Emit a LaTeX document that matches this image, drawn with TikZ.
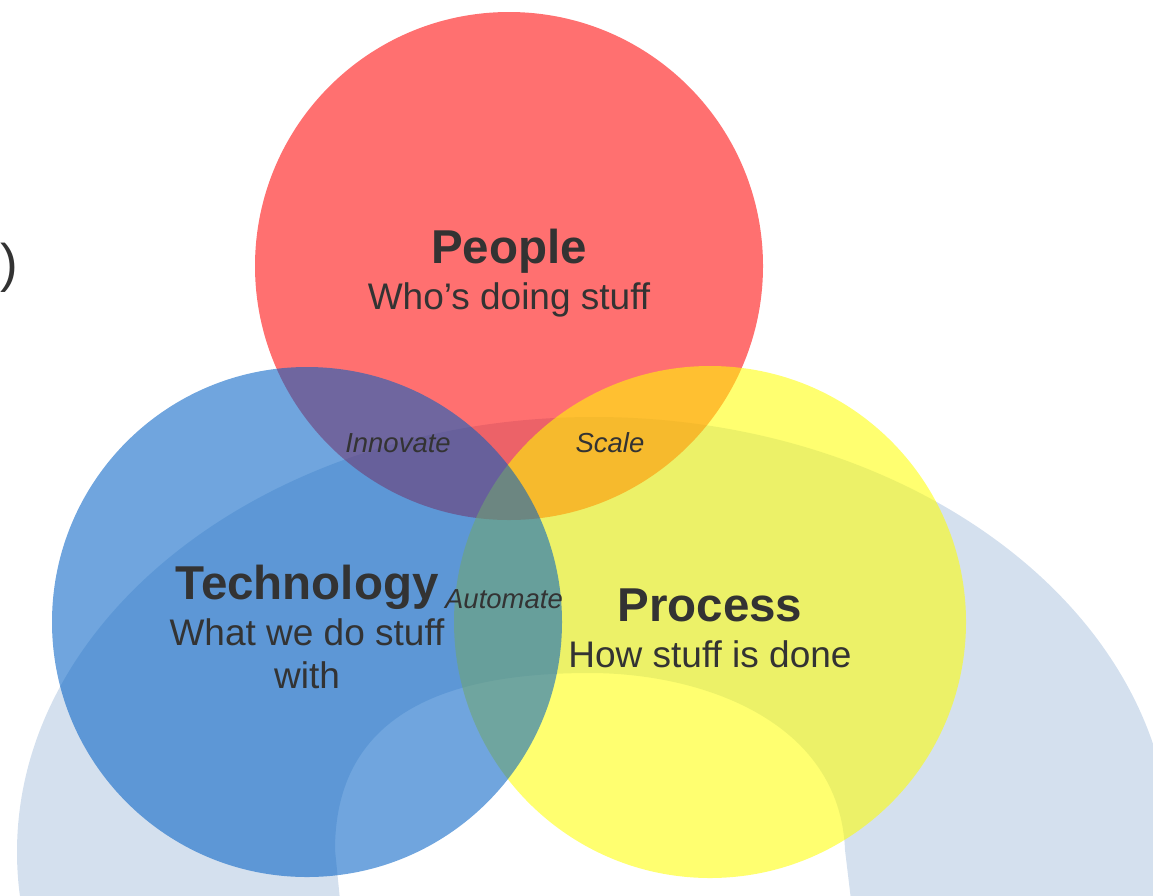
\documentclass[tikz,border=0pt]{standalone}
\usepackage{fontspec}
\setmainfont{Liberation Sans}
\definecolor{archblue}{HTML}{D4E0EE}
\definecolor{pred}{RGB}{255,0,0}
\definecolor{pyellow}{RGB}{255,255,0}
\definecolor{pblue}{RGB}{0,95,196}
\definecolor{inkgrey}{HTML}{333333}
\begin{document}
\begin{tikzpicture}[x=1pt,y=-1pt,
  venn/.style={fill opacity=0.56, draw=none},
  title/.style={anchor=base, inner sep=0, text=inkgrey, font=\fontsize{47.5}{56}\selectfont\bfseries},
  subtitle/.style={anchor=base, inner sep=0, text=inkgrey, font=\fontsize{37}{44}\selectfont},
  overlap/.style={anchor=base, inner sep=0, text=inkgrey, font=\fontsize{27.5}{33}\selectfont\itshape}]
\useasboundingbox (0,0) rectangle (1153,895);
\clip (0,0) rectangle (1153,895);

% pale arch behind the three sets
\fill[archblue, even odd rule] (594,852) ellipse [x radius=577, y radius=435]
  (340,900) -- (335,850) .. controls (335,700) and (470,673) .. (590,673)
  .. controls (700,673) and (840,720) .. (845,850) -- (851,900) -- cycle;

% the three translucent sets
\fill[venn, pred] (509,266) circle [radius=254];
\fill[venn, pyellow] (710,622) circle [radius=256];
\fill[venn, pblue] (307,622) circle [radius=255];

% set labels
\node[title] (peopleT) at (509,263) {People};
\node[subtitle] (peopleS) at (509,309) {Who’s doing stuff};
\node[title] (techT) at (307,599) {Technology};
\node[subtitle] (techS1) at (307,645) {What we do stuff};
\node[subtitle] (techS2) at (307,688) {with};
\node[title] (procT) at (710,621) {Process};
\node[subtitle] (procS) at (710,667) {How stuff is done};

% overlap labels
\node[overlap] (innov) at (398,452) {Innovate};
\node[overlap] (scale) at (610,452) {Scale};
\node[overlap] (autom) at (504,608) {Automate};

% stray bracket at the left edge
\node[inner sep=0, text=inkgrey, font=\fontsize{53}{60}\selectfont] (paren) at (9,268) {)};
\end{tikzpicture}
\end{document}
